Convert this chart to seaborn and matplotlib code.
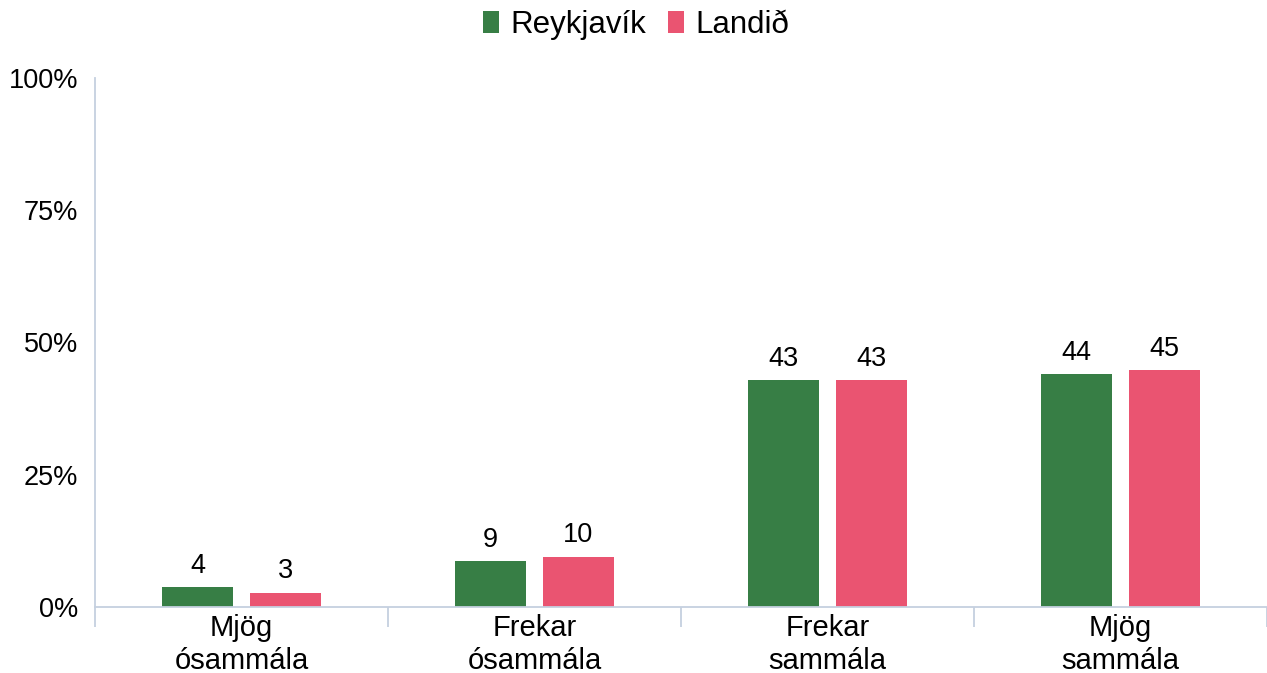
import matplotlib
matplotlib.use("Agg")
from matplotlib import pyplot as plt
import pandas as pd
import seaborn as sns

# data
categories = ['Mjög\nósammála', 'Frekar\nósammála', 'Frekar\nsammála', 'Mjög\nsammála']
series = ['Reykjavík', 'Landið']
reykjavik = [3.8, 8.7, 42.9, 44.0]
landid = [2.7, 9.5, 42.9, 44.8]
labels_rvk = ['4', '9', '43', '44']
labels_land = ['3', '10', '43', '45']
yticks = [0, 25, 50, 75, 100]
ytick_labels = ['0%', '25%', '50%', '75%', '100%']

colors = ['#377E45', '#EA5471']
spine_color = '#C5D0DF'

df = pd.DataFrame({
    'category': categories * 2,
    'series': [series[0]] * 4 + [series[1]] * 4,
    'value': reykjavik + landid,
})

sns.set_theme(style='white')
plt.rcParams['font.family'] = ['Liberation Sans', 'DejaVu Sans']
plt.rcParams['text.color'] = 'black'
plt.rcParams['xtick.color'] = 'black'
plt.rcParams['ytick.color'] = 'black'

fig = plt.figure(figsize=(12.67, 6.73), dpi=100)
ax = fig.add_axes([95 / 1267, 1 - 607 / 673, 1172 / 1267, (607 - 78) / 673])

sns.barplot(data=df, x='category', y='value', hue='series', order=categories,
            hue_order=series, palette=colors, width=0.6, gap=0.2,
            saturation=1, ax=ax, errorbar=None, linewidth=0)

# value labels above bars
for cont, labs in zip(ax.containers, [labels_rvk, labels_land]):
    ax.bar_label(cont, labels=labs, padding=6, fontsize=19.5, color='black')

ax.set_xlim(-0.5, 3.5)
ax.set_ylim(0, 100)
ax.set_yticks(yticks)
ax.set_yticklabels(ytick_labels, fontsize=19.5)
ax.tick_params(axis='y', length=0, pad=12)
ax.set_xticks(range(len(categories)))
ax.set_xticklabels(categories, fontsize=21, linespacing=1.25)
ax.tick_params(axis='x', which='major', length=0, pad=5)
ax.set_xticks([-0.5, 0.5, 1.5, 2.5, 3.5], minor=True)
ax.tick_params(axis='x', which='minor', bottom=True, length=14.5, width=1.3,
               color=spine_color, direction='out')
ax.set_xlabel('')
ax.set_ylabel('')

for side in ['top', 'right']:
    ax.spines[side].set_visible(False)
for side in ['left', 'bottom']:
    ax.spines[side].set_color(spine_color)
    ax.spines[side].set_linewidth(1.3)

ax.legend(loc='center', bbox_to_anchor=((636 - 95) / 1172, 1 + (78 - 25) / 529),
          ncol=2, frameon=False, fontsize=22.5, handlelength=0.52,
          handleheight=0.74, handletextpad=0.35, columnspacing=0.7,
          borderaxespad=0, borderpad=0)

fig.savefig('out.png', dpi=100)
